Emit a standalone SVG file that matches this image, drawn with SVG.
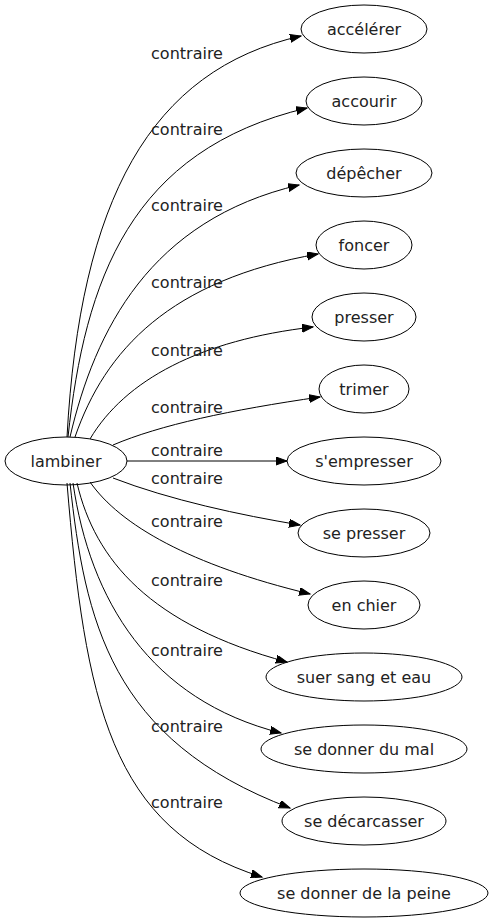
<svg xmlns="http://www.w3.org/2000/svg" width="493" height="923" viewBox="0 0 493 923">
<style>
text{font-family:"DejaVu Sans",sans-serif;font-size:16px;fill:#222;text-anchor:middle}
ellipse{fill:none;stroke:#000;stroke-width:1}
.e path{fill:none;stroke:#000;stroke-width:1;marker-end:url(#arr)}
</style>
<defs>
<marker id="arr" markerWidth="13" markerHeight="10" refX="11" refY="4" orient="auto" markerUnits="userSpaceOnUse">
<path d="M0,0 L11,4 L0,8 z" fill="#000" stroke="#000" stroke-width="1"/>
</marker>
</defs>
<rect width="493" height="923" fill="#fff"/>
<g id="edges" class="e">
<path d="M67,437 C80,200 150,70 301,36"/>
<path d="M68,437 C85,280 130,150 307,108"/>
<path d="M70,437 C95,330 150,220 299,185"/>
<path d="M75,437 C105,350 170,280 318,254"/>
<path d="M90,439 C125,380 200,340 313,327"/>
<path d="M113,445 C160,425 230,410 320,397"/>
<path d="M127,461 L287,461"/>
<path d="M113,478 C170,500 240,515 300,525"/>
<path d="M90,482 C120,525 190,565 310,594"/>
<path d="M77,483 C95,560 150,625 287,662"/>
<path d="M73,483 C90,600 150,700 281,733"/>
<path d="M70,483 C85,620 110,740 290,808"/>
<path d="M67,483 C85,700 110,830 262,877"/>
</g>
<g id="labels">
<text x="187" y="59">contraire</text>
<text x="187" y="135">contraire</text>
<text x="187" y="211">contraire</text>
<text x="187" y="288">contraire</text>
<text x="187" y="356">contraire</text>
<text x="187" y="413">contraire</text>
<text x="187" y="456">contraire</text>
<text x="187" y="484">contraire</text>
<text x="187" y="527">contraire</text>
<text x="187" y="586">contraire</text>
<text x="187" y="656">contraire</text>
<text x="187" y="732">contraire</text>
<text x="187" y="808">contraire</text>
</g>
<g id="lambiner"><ellipse cx="66" cy="461" rx="61" ry="24"/><text x="66" y="467">lambiner</text></g>
<g id="accelerer"><ellipse cx="364" cy="29" rx="63" ry="24"/><text x="364" y="35">accélérer</text></g>
<g id="accourir"><ellipse cx="364" cy="101" rx="58" ry="24"/><text x="364" y="107">accourir</text></g>
<g id="depecher"><ellipse cx="364" cy="173" rx="68" ry="24"/><text x="364" y="179">dépêcher</text></g>
<g id="foncer"><ellipse cx="364" cy="245" rx="48" ry="24"/><text x="364" y="251">foncer</text></g>
<g id="presser"><ellipse cx="364" cy="317" rx="52" ry="24"/><text x="364" y="323">presser</text></g>
<g id="trimer"><ellipse cx="364" cy="389" rx="45" ry="24"/><text x="364" y="395">trimer</text></g>
<g id="sempresser"><ellipse cx="364" cy="461" rx="77" ry="24"/><text x="364" y="467">s'empresser</text></g>
<g id="sepresser"><ellipse cx="364" cy="533" rx="66" ry="24"/><text x="364" y="539">se presser</text></g>
<g id="enchier"><ellipse cx="364" cy="605" rx="56" ry="24"/><text x="364" y="611">en chier</text></g>
<g id="suer"><ellipse cx="364" cy="677" rx="98" ry="24"/><text x="364" y="683">suer sang et eau</text></g>
<g id="sedonnerdumal"><ellipse cx="364" cy="749" rx="103" ry="24"/><text x="364" y="755">se donner du mal</text></g>
<g id="sedecarcasser"><ellipse cx="364" cy="821" rx="82" ry="24"/><text x="364" y="827">se décarcasser</text></g>
<g id="sedonnerdelapeine"><ellipse cx="364" cy="893" rx="124" ry="24"/><text x="364" y="899">se donner de la peine</text></g>
</svg>
